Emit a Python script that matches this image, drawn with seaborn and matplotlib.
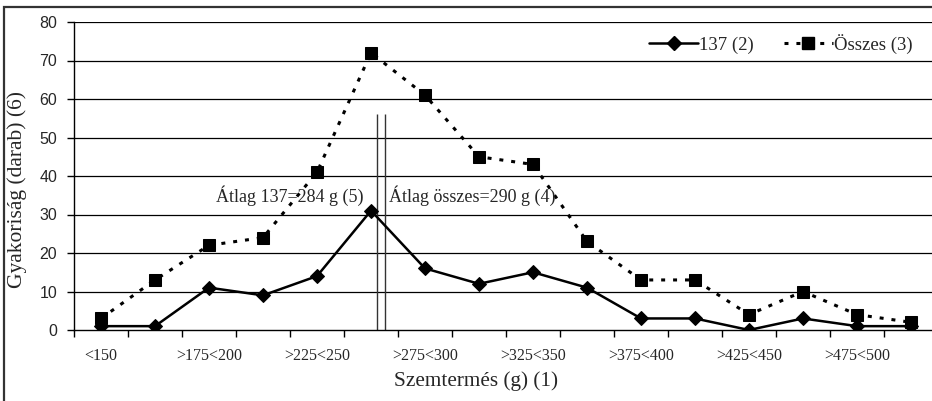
import numpy as np
import pandas as pd
import matplotlib
matplotlib.use("Agg")
import matplotlib.pyplot as plt
from matplotlib.patches import Rectangle
from matplotlib.lines import Line2D
import seaborn as sns

categories = ["<150", ">150<175", ">175<200", ">200<225", ">225<250", ">250<275",
              ">275<300", ">300<325", ">325<350", ">350<375", ">375<400", ">400<425",
              ">425<450", ">450<475", ">475<500", ">500"]
series_137 = [1, 1, 11, 9, 14, 31, 16, 12, 15, 11, 3, 3, 0, 3, 1, 1]
series_osszes = [3, 13, 22, 24, 41, 72, 61, 45, 43, 23, 13, 13, 4, 10, 4, 2]
mean_line_pos = [5.11, 5.26]  # category-index positions of the two mean lines
mean_line_top = 56
label_137 = "137 (2)"
label_osszes = "Összes (3)"
annot_137 = "Átlag 137=284 g (5)"
annot_osszes = "Átlag összes=290 g (4)"
xlabel = "Szemtermés (g) (1)"
ylabel = "Gyakoriság (darab) (6)"
yticks = [0, 10, 20, 30, 40, 50, 60, 70, 80]

sns.set_style("white")
serif = ["Liberation Serif", "DejaVu Serif"]
sans = ["Liberation Sans", "DejaVu Sans"]

W, H = 932, 401
fig = plt.figure(figsize=(W / 100, H / 100), dpi=100)
ax = fig.add_axes([74 / W, (H - 330) / H, 864 / W, 308 / H])

idx = np.arange(len(categories))
df = pd.DataFrame({"x": idx, "a": series_137, "b": series_osszes})

# gridlines
for v in yticks[1:]:
    ax.axhline(v, color="black", lw=0.9, zorder=0)

dotted = (0, (1.3, 2.6))
sns.lineplot(data=df, x="x", y="b", ax=ax, color="black", lw=2.2,
             linestyle=dotted, marker="s", markersize=8.5,
             markeredgecolor="black", markerfacecolor="black", zorder=3)
sns.lineplot(data=df, x="x", y="a", ax=ax, color="black", lw=1.8,
             marker="D", markersize=7, markeredgecolor="black",
             markerfacecolor="black", zorder=4)

ax.vlines(mean_line_pos, 0, mean_line_top, color="#333333", lw=1.0, zorder=2)

ax.set_xlim(-0.5, len(categories) - 0.5)
ax.set_ylim(0, 80)
ax.set_xlabel("")
ax.set_ylabel("")

ax.set_xticks(idx[::2])
ax.set_xticklabels([categories[i] for i in idx[::2]], fontfamily=serif, fontsize=11.5)
ax.set_xticks(np.arange(-0.5, len(categories), 1), minor=True)
ax.tick_params(axis="x", which="major", length=0, pad=13)
ax.tick_params(axis="x", which="minor", length=5, width=1, color="black", direction="out", bottom=True)
ax.set_yticks(yticks)
ax.set_yticklabels([str(v) for v in yticks], fontfamily=sans, fontsize=11.5)
ax.tick_params(axis="y", length=5, width=1, color="black", direction="out", pad=7, left=True)

for s in ["top", "right"]:
    ax.spines[s].set_visible(False)
for s in ["left", "bottom"]:
    ax.spines[s].set_color("black")
    ax.spines[s].set_linewidth(1.0)

ax.text(4.86, 34.8, annot_137, ha="right", va="center", fontfamily=serif, fontsize=13)
ax.text(5.33, 34.8, annot_osszes, ha="left", va="center", fontfamily=serif, fontsize=13)

fig.text(476 / W, 1 - 381 / H, xlabel, ha="center", va="center", fontfamily=serif, fontsize=15.3)
fig.text(17 / W, 1 - 190 / H, ylabel, ha="center", va="center", rotation=90,
         fontfamily=serif, fontsize=15.5)

handles = [Line2D([], [], color="black", lw=1.8, marker="D", markersize=7),
           Line2D([], [], color="black", lw=2.2, linestyle=dotted, marker="s", markersize=8.5)]
fig.legend(handles, [label_137, label_osszes], loc="center left",
           bbox_to_anchor=(640 / W, 1 - 44 / H), ncol=2, frameon=False, borderpad=0,
           prop={"family": serif, "size": 13.5}, handlelength=2.6, handletextpad=0.05,
           columnspacing=1.6)

fig.patches.append(Rectangle((4 / W, -0.2), 1.3, 1.2 - 7 / H, transform=fig.transFigure,
                             fill=False, edgecolor="#333333", lw=1.6, zorder=10))

fig.savefig("out.png", dpi=100)
